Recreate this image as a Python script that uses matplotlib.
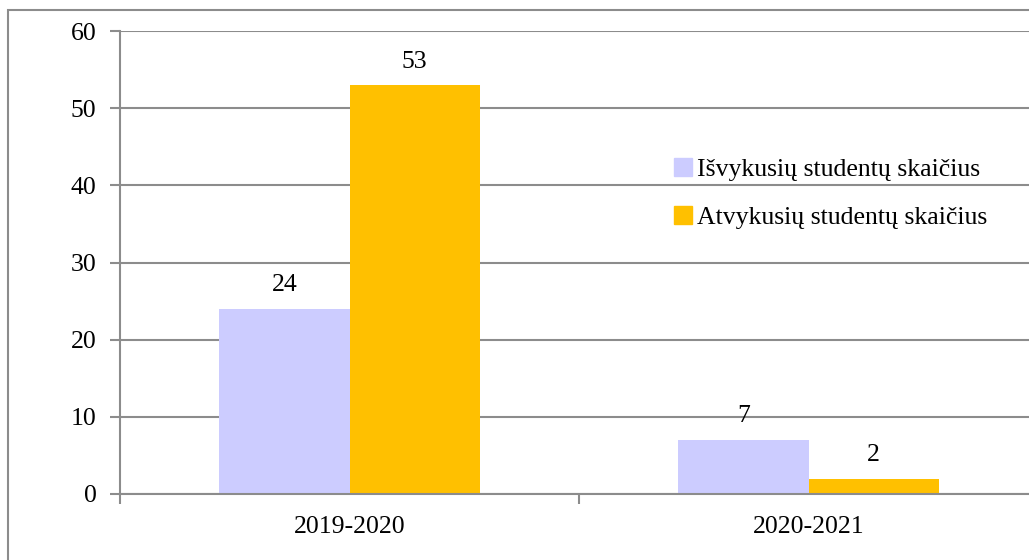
import matplotlib
matplotlib.use("Agg")
import matplotlib.pyplot as plt
from matplotlib.patches import Rectangle, Patch
import numpy as np

categories = ["2019-2020", "2020-2021"]
series_names = ["Išvykusių studentų skaičius", "Atvykusių studentų skaičius"]
isvykusiu = [24, 7]
atvykusiu = [53, 2]
colors = ["#CCCCFF", "#FFC000"]
yticks = [0, 10, 20, 30, 40, 50, 60]

plt.rcParams['font.family'] = ['Liberation Serif', 'DejaVu Serif']
FS = 18.5

W, H = 1029, 560
fig = plt.figure(figsize=(W/100, H/100), dpi=100)
fig.patches.append(Rectangle((8/W, -0.1), 1.2, (H - 10)/H + 0.1, transform=fig.transFigure,
                             fill=False, edgecolor="#8c8c8c", linewidth=1.5))

left, right_px, top, bottom = 120, 1038, 31, 494
ax = fig.add_axes([left/W, 1 - bottom/H, (right_px - left)/W, (bottom - top)/H])

x = np.arange(len(categories))
bw = 0.284
b1 = ax.bar(x - bw/2, isvykusiu, bw, color=colors[0], label=series_names[0], zorder=2)
b2 = ax.bar(x + bw/2, atvykusiu, bw, color=colors[1], label=series_names[1], zorder=2)

for bars, vals in ((b1, isvykusiu), (b2, atvykusiu)):
    for rect, v in zip(bars, vals):
        ax.annotate(str(v), (rect.get_x() + rect.get_width()/2, v), xytext=(0, 9),
                    textcoords="offset points", ha="center", va="bottom", fontsize=FS)

ax.set_xlim(-0.5, 1.5)
ax.set_ylim(0, 60)
ax.set_yticks(yticks)
ax.set_yticklabels([str(t) for t in yticks], fontsize=FS)
ax.yaxis.grid(True, color="#8c8c8c", linewidth=1.5, zorder=0)
ax.set_axisbelow(True)

ax.set_xticks([-0.5, 0.5, 1.5])
ax.set_xticklabels([])
ax.set_xticks(x, minor=True)
ax.set_xticklabels(categories, minor=True, fontsize=FS)
ax.tick_params(axis="x", which="minor", length=0, pad=16)
ax.tick_params(axis="x", which="major", length=7, width=1.5, color="#8c8c8c")
ax.tick_params(axis="y", length=7, width=1.5, color="#8c8c8c", pad=10)

for s in ["top", "right"]:
    ax.spines[s].set_visible(False)
for s in ["left", "bottom"]:
    ax.spines[s].set_color("#8c8c8c")
    ax.spines[s].set_linewidth(1.5)

handles = [Patch(color=c) for c in colors]
leg = ax.legend(handles, series_names, loc="upper left", bbox_to_anchor=(0.578, 0.775),
                frameon=False, fontsize=FS, handlelength=0.7, handleheight=0.7,
                handletextpad=0.2, labelspacing=0.95)

fig.savefig("out.png", dpi=100)
